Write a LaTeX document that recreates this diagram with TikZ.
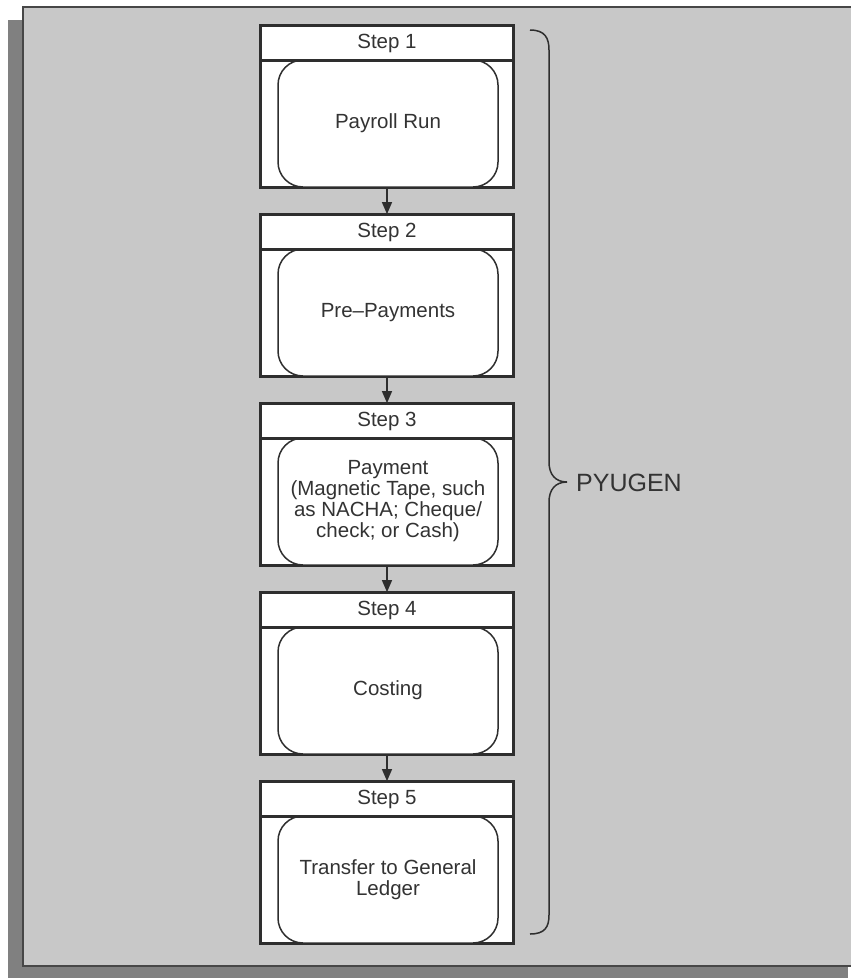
\documentclass[tikz,border=0pt]{standalone}
\usepackage{fontspec}
\setmainfont{Liberation Sans}
\usetikzlibrary{arrows.meta}
\definecolor{panelfill}{HTML}{C8C8C8}
\definecolor{shadowfill}{HTML}{808080}
\definecolor{panelline}{HTML}{474747}
\definecolor{inkline}{HTML}{2E2E2E}
\definecolor{inktext}{HTML}{333333}
\begin{document}
\begin{tikzpicture}[x=1pt,y=-1pt,
  stepbox/.style={draw=inkline, line width=1.8pt, fill=white, minimum width=252pt, minimum height=161pt, inner sep=0pt},
  headbox/.style={draw=inkline, line width=1.8pt, fill=white, minimum width=252pt, minimum height=34pt, inner sep=0pt, text=inktext, font=\fontsize{20.5}{20.5}\selectfont},
  bodybox/.style={draw=inkline, line width=1.5pt, fill=white, rounded corners=25pt, minimum width=220pt, minimum height=127pt, inner sep=0pt, align=center, text=inktext, font=\fontsize{20.5}{21}\selectfont},
  flow/.style={draw=inkline, line width=1.5pt, -{Triangle[length=12pt,width=10pt]}},
  bracepath/.style={draw=inkline, line width=1.5pt},
  lbl/.style={text=inktext, font=\fontsize{25}{25}\selectfont, anchor=west, inner sep=0pt}
]
\useasboundingbox (0,0) rectangle (851,978);
% shadow and panel
\fill[shadowfill] (8,20) rectangle (848,978);
\draw[panelline, line width=2.6pt, fill=panelfill] (23,966) -- (23,7) -- (860,7) -- (860,966) -- cycle;
% steps
\foreach \i/\t in {1/26,2/215,3/404,4/593,5/782}{
  \node[stepbox] (s\i) at (387,\t+80.5) {};
  \node[headbox] (h\i) at (387,\t+17) {Step \i};
}
\node[bodybox] (b1) at (388,123.5) {Payroll Run};
\node[bodybox] (b2) at (388,312.5) {Pre--Payments};
\node[bodybox] (b3) at (388,501.5) {Payment\\(Magnetic Tape, such\\as NACHA; Cheque/\\check; or Cash)};
\node[bodybox] (b4) at (388,690.5) {Costing};
\node[bodybox] (b5) at (388,879.5) {Transfer to General\\Ledger};
% redraw header lines over body tops
\foreach \i in {1,...,5}{
  \draw[inkline, line width=1.8pt] (h\i.south west) -- (h\i.south east);
  \draw[inkline, line width=1.8pt] (s\i.north west) rectangle (s\i.south east);
}
% connectors
\draw[flow] (s1.south) -- (h2.north);
\draw[flow] (s2.south) -- (h3.north);
\draw[flow] (s3.south) -- (h4.north);
\draw[flow] (s4.south) -- (h5.north);
% brace
\coordinate (tip) at (567,482);
\draw[bracepath] (530,30) .. controls (545,30) and (549,38) .. (549,50) -- (549,462)
  .. controls (549,474) and (555,482) .. (tip)
  .. controls (555,482) and (549,490) .. (549,502) -- (549,915)
  .. controls (549,927) and (545,934) .. (530,934);
\node[lbl] (pyugen) at (576,483) {PYUGEN};
\end{tikzpicture}
\end{document}
